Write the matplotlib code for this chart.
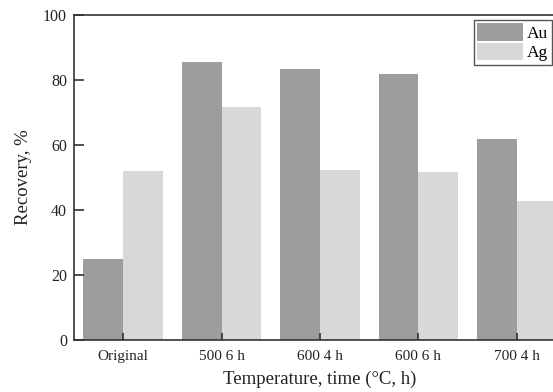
import matplotlib.pyplot as plt
import numpy as np

categories = ['Original', '500 6 h', '600 4 h', '600 6 h', '700 4 h']
au = [24.8, 85.5, 83.3, 81.8, 61.7]
ag = [52.1, 71.6, 52.3, 51.6, 42.9]

plt.rcParams['font.family'] = ['Liberation Serif', 'DejaVu Serif']

fig = plt.figure(figsize=(5.53, 3.92), dpi=100)
ax = fig.add_axes([0.1338, 0.1327, 0.8897, 0.829])

x = np.arange(len(categories))
w = 0.405
ax.bar(x - w/2, au, w, color='#9d9d9b', label='Au')
ax.bar(x + w/2, ag, w, color='#d8d8d8', label='Ag')

ax.set_xlim(-0.5, 4.5)
ax.set_ylim(0, 100)
ax.set_yticks([0, 20, 40, 60, 80, 100])
ax.set_xticks(x)
ax.set_xticklabels(categories)
ax.tick_params(axis='y', direction='in', length=7, width=1.1, labelsize=11.5, colors='#222222', pad=5)
ax.tick_params(axis='x', direction='in', length=5, width=1.1, labelsize=11, colors='#222222', pad=7)
for s in ax.spines.values():
    s.set_linewidth(1.2)
    s.set_color('#333333')

ax.set_xlabel('Temperature, time (°C, h)', fontsize=13.5, color='#222222', labelpad=6)
ax.set_ylabel('Recovery, %', fontsize=13.5, color='#222222', labelpad=8)

leg = ax.legend(loc='upper left', bbox_to_anchor=(474/553, 1 - 20/392),
                bbox_transform=fig.transFigure, borderaxespad=0, fontsize=12.5,
                handlelength=2.6, handleheight=1.15, labelspacing=0.05,
                handletextpad=0.25, borderpad=0.2, fancybox=False, framealpha=1)
leg.get_frame().set_edgecolor('#555555')
leg.get_frame().set_linewidth(1.0)

fig.savefig('out.png', dpi=100)
